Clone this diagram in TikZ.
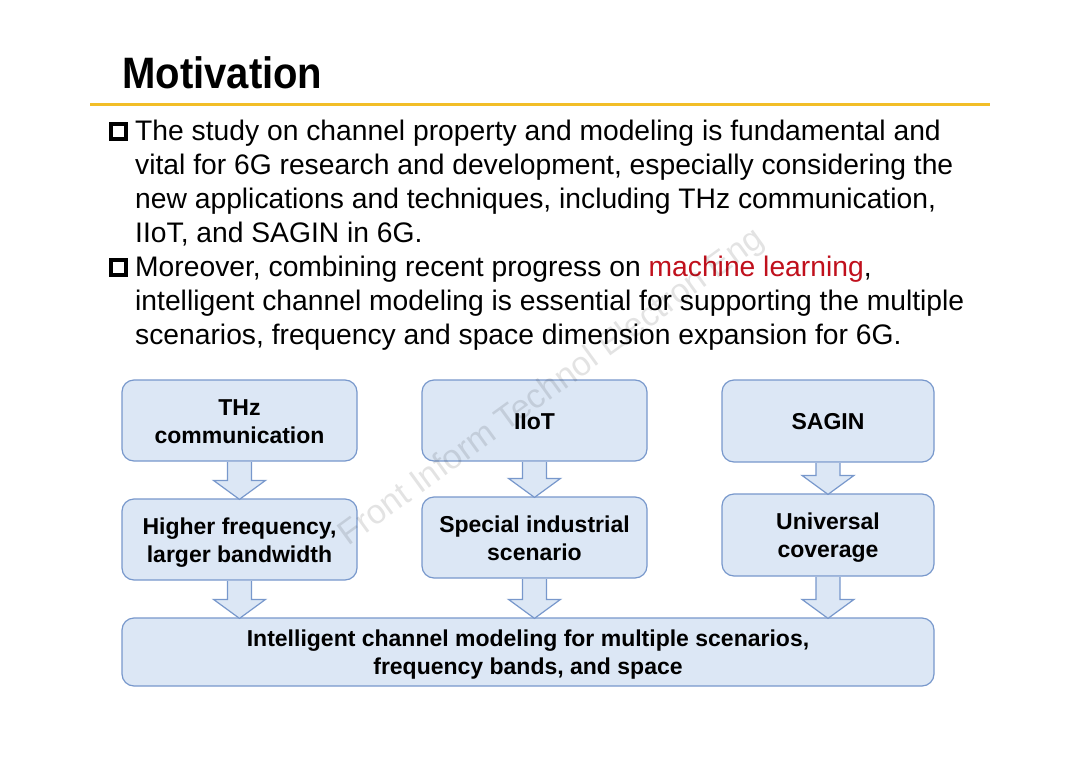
\documentclass[tikz,border=0pt]{standalone}
\usepackage{fontspec}
\setmainfont{Liberation Sans}
\usetikzlibrary{calc}
\definecolor{boxfill}{RGB}{220,231,245}
\definecolor{boxline}{RGB}{120,152,204}
\definecolor{gold}{RGB}{242,190,40}
\definecolor{mlred}{RGB}{192,16,28}
\newcommand{\bt}[1]{\raisebox{0pt}[\dimexpr\height+6pt\relax][\depth]{\begin{tabular}{@{}c@{}}#1\end{tabular}}}
\newcommand{\blockarrow}[2]{%
  \draw[barrow] ($(#1.south)+(-12,0.6)$) -- ($(#1.south |- #2.north)+(-12,-18)$)
    -- ($(#1.south |- #2.north)+(-26,-18)$) -- ($(#1.south |- #2.north)+(0,1)$)
    -- ($(#1.south |- #2.north)+(26,-18)$) -- ($(#1.south |- #2.north)+(12,-18)$)
    -- ($(#1.south)+(12,0.6)$);}
\begin{document}
\begin{tikzpicture}[x=1pt,y=-1pt,
  box/.style={draw=boxline, fill=boxfill, line width=1.2pt, rounded corners=12pt,
    font=\fontsize{23}{28}\selectfont\bfseries, inner sep=0pt},
  barrow/.style={draw=boxline, fill=boxfill, line width=1.2pt, line join=miter},
  body/.style={anchor=base west, inner sep=0pt, font=\fontsize{28.25}{34}\selectfont},
  bulletbox/.style={draw=black, line width=3.3pt, minimum size=15pt, inner sep=0pt}
]
\useasboundingbox (0,0) rectangle (1080,763);
\fill[white] (0,0) rectangle (1080,763);

% title
\node[anchor=base west, inner sep=0pt, font=\fontsize{44}{44}\selectfont\bfseries] (title) at (122,88) {\scalebox{0.91}[1]{Motivation}};
\coordinate (rl) at (90,104);
\coordinate (rr) at (990,104);
\draw[gold, line width=3pt] (rl) -- (rr);

% bullets
\node[bulletbox] (b1) at (118.5,131.5) {};
\node[bulletbox] (b2) at (118.5,267.5) {};
\node[body] (l1) at (135,140) {The study on channel property and modeling is fundamental and};
\node[body] (l2) at (135,174) {vital for 6G research and development, especially considering the};
\node[body] (l3) at (135,208) {new applications and techniques, including THz communication,};
\node[body] (l4) at (135,242) {IIoT, and SAGIN in 6G.};
\node[body] (l5) at (135,276) {Moreover, combining recent progress on {\color{mlred}machine learning},};
\node[body] (l6) at (135,310) {intelligent channel modeling is essential for supporting the multiple};
\node[body] (l7) at (135,344) {scenarios, frequency and space dimension expansion for 6G.};

% boxes
\node[box, minimum width=235pt, minimum height=81pt] (thz) at (239.5,420.5) {\bt{THz\\communication}};
\node[box, minimum width=225pt, minimum height=81pt] (iiot) at (534.5,420.5) {\bt{IIoT}};
\node[box, minimum width=212pt, minimum height=82pt] (sagin) at (828,421) {\bt{SAGIN}};
\node[box, minimum width=235pt, minimum height=81pt] (higher) at (239.5,539.5) {\bt{Higher frequency,\\larger bandwidth}};
\node[box, minimum width=225pt, minimum height=81pt] (special) at (534.5,537.5) {\bt{Special industrial\\scenario}};
\node[box, minimum width=212pt, minimum height=82pt] (univ) at (828,535) {\bt{Universal\\coverage}};
\node[box, minimum width=812pt, minimum height=68pt] (icm) at (528,652) {\bt{Intelligent channel modeling for multiple scenarios,\\frequency bands, and space}};

% block arrows
\blockarrow{thz}{higher}
\blockarrow{iiot}{special}
\blockarrow{sagin}{univ}
\blockarrow{higher}{icm}
\blockarrow{special}{icm}
\blockarrow{univ}{icm}

% watermark
\node[rotate=36, text=black, opacity=0.11, font=\fontsize{34}{34}\selectfont, inner sep=0pt] (wm) at (552,388) {Front Inform Technol Electron Eng};
\end{tikzpicture}
\end{document}
